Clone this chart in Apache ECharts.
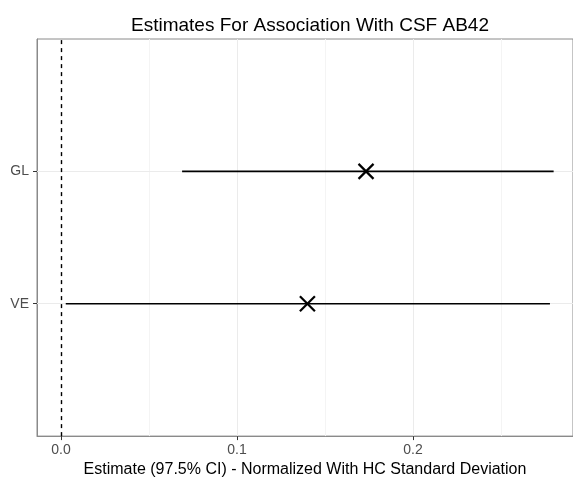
<!DOCTYPE html>
<html>
<head>
<meta charset="utf-8">
<script src="https://cdn.jsdelivr.net/npm/echarts@6/dist/echarts.min.js"></script>
<style>
  html, body { margin: 0; padding: 0; background: #fff; }
  #chart { width: 573px; height: 483px; }
</style>
</head>
<body>
<div id="chart"></div>
<script>
// data
const groups = ['VE', 'GL'];
const estimates = [0.140, 0.1733];
const ciLower = [0.0027, 0.0688];
const ciUpper = [0.2778, 0.2799];

const xTicks = [0, 0.1, 0.2];
const xMinor = [0.05, 0.15, 0.25];
// discrete y: VE at slot 1, GL at slot 2, axis runs 0..3
const yTicks = [1, 2];

const chart = echarts.init(document.getElementById('chart'));

const rows = groups.map((g, i) => [estimates[i], i + 1, ciLower[i], ciUpper[i]]);
const gridColor = '#ebebeb';
const borderColor = '#8a8a8a';

chart.setOption({
    animation: false,
    backgroundColor: '#fff',
    textStyle: { fontFamily: 'Liberation Sans, Arial, sans-serif' },
    title: {
        text: 'Estimates For Association With CSF AB42',
        left: 305, top: 11, textAlign: 'center',
        textStyle: { fontSize: 19, fontWeight: 'normal', color: '#000', fontFamily: 'Liberation Sans' },
    },
    grid: { left: 37, right: 0, top: 39, bottom: 39, show: true, borderColor: borderColor, borderWidth: 1 },
    xAxis: {
        type: 'value',
        min: -0.01364, max: 0.2909,
        name: 'Estimate (97.5% CI) - Normalized With HC Standard Deviation',
        nameLocation: 'middle', nameGap: 22,
        nameTextStyle: { fontSize: 16, color: '#000', fontFamily: 'Liberation Sans' },
        axisLine: { show: true, onZero: false, lineStyle: { color: borderColor, width: 1 } },
        axisTick: { show: true, length: 4, customValues: xTicks, lineStyle: { color: '#333', width: 1 } },
        axisLabel: { customValues: xTicks, fontSize: 14, color: '#4d4d4d', margin: 7,
            formatter: v => v.toFixed(1) },
        splitLine: { show: false },
    },
    yAxis: {
        type: 'value',
        min: 0, max: 3,
        axisLine: { show: true, onZero: false, lineStyle: { color: borderColor, width: 1 } },
        axisTick: { show: true, length: 4, customValues: yTicks, lineStyle: { color: '#333', width: 1 } },
        axisLabel: { customValues: yTicks, fontSize: 14, color: '#4d4d4d', margin: 8,
            formatter: v => groups[v - 1] || '' },
        splitLine: { show: false },
    },
    series: [
        {
            // panel grid lines, placed through the axis scales
            type: 'line', data: [], silent: true, z: 1,
            markLine: {
                silent: true, symbol: 'none', label: { show: false }, animation: false,
                data: [
                    ...xTicks.slice(1).map(v => ({ xAxis: v, lineStyle: { color: gridColor, width: 1, type: 'solid' } })),
                    ...xMinor.map(v => ({ xAxis: v, lineStyle: { color: '#f4f4f4', width: 1, type: 'solid' } })),
                    ...yTicks.map(v => ({ yAxis: v, lineStyle: { color: gridColor, width: 1, type: 'solid' } })),
                ],
            },
        },
        {
            type: 'custom',
            data: rows,
            encode: { x: 0, y: 1 },
            z: 5,
            renderItem: (params, api) => {
                const y = api.value(1);
                const lo = api.coord([api.value(2), y]);
                const hi = api.coord([api.value(3), y]);
                const c = api.coord([api.value(0), y]);
                const h = 7.5;
                return {
                    type: 'group',
                    children: [
                        { type: 'line', shape: { x1: lo[0], y1: lo[1], x2: hi[0], y2: hi[1] },
                          style: { stroke: '#000', lineWidth: 1.6 } },
                        { type: 'line', shape: { x1: c[0] - h, y1: c[1] - h, x2: c[0] + h, y2: c[1] + h },
                          style: { stroke: '#000', lineWidth: 2.2 } },
                        { type: 'line', shape: { x1: c[0] - h, y1: c[1] + h, x2: c[0] + h, y2: c[1] - h },
                          style: { stroke: '#000', lineWidth: 2.2 } },
                    ],
                };
            },
            markLine: {
                silent: true, symbol: 'none', label: { show: false }, animation: false,
                lineStyle: { color: '#000', width: 1.4, type: [4, 4] },
                data: [{ xAxis: 0 }],
            },
        },
    ],
});
</script>
</body>
</html>
